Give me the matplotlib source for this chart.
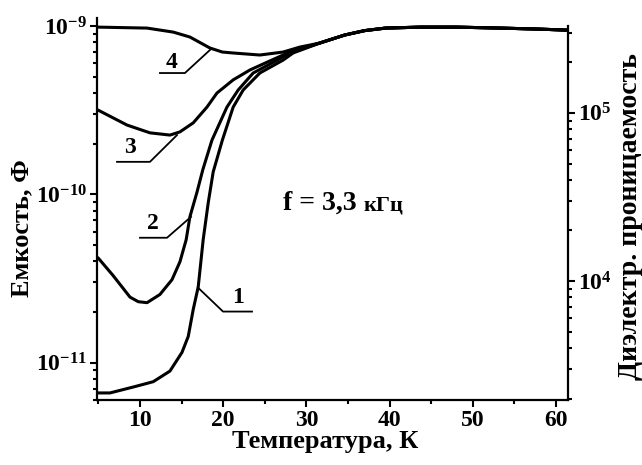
import numpy as np
import matplotlib
matplotlib.use('Agg')
from matplotlib import pyplot as plt
from matplotlib.ticker import MultipleLocator, NullFormatter

plt.rcParams['font.family'] = 'Liberation Serif'
plt.rcParams['font.weight'] = 'bold'
plt.rcParams['axes.labelweight'] = 'bold'
plt.rcParams['axes.linewidth'] = 1.6

# common high-temperature part (all curves merge)
temp_tail = [31.6, 34.6, 37.0, 39.5, 43.7, 48.0, 53.3, 58.1, 61.3]
cap_tail = [7.93e-10, 8.85e-10, 9.4e-10, 9.73e-10, 9.86e-10, 9.86e-10, 9.73e-10, 9.59e-10, 9.46e-10]

# curve 1
temp_1 = [4.95, 6.4, 9.4, 11.6, 13.6, 15.05, 15.8, 16.4, 17.0, 17.6, 18.2, 18.8,
          19.9, 21.2, 22.4, 24.4, 27.2, 28.4]
cap_1 = [6.6e-12, 6.6e-12, 7.2e-12, 7.7e-12, 8.9e-12, 1.15e-11, 1.43e-11, 2.07e-11,
         2.82e-11, 5.4e-11, 8.9e-11, 1.36e-10, 2.10e-10, 3.30e-10, 4.17e-10, 5.26e-10,
         6.28e-10, 6.92e-10]

# curve 2
temp_2 = [4.95, 6.75, 8.8, 9.8, 10.85, 12.4, 13.85, 14.8, 15.55, 16.0, 16.85, 17.55, 18.65,
          20.45, 21.8, 23.6, 26.5, 28.0]
cap_2 = [4.2e-11, 3.3e-11, 2.45e-11, 2.3e-11, 2.27e-11, 2.54e-11, 3.11e-11, 3.97e-11, 5.37e-11,
         7.35e-11, 1.03e-10, 1.40e-10, 2.10e-10, 3.30e-10, 4.17e-10, 5.26e-10, 6.28e-10,
         6.92e-10]

# curve 3
temp_3 = [4.95, 8.45, 11.2, 13.6, 14.8, 16.4, 18.05, 19.25, 21.2, 23.2, 25.3, 28.0]
cap_3 = [3.17e-10, 2.58e-10, 2.32e-10, 2.25e-10, 2.35e-10, 2.66e-10, 3.30e-10, 4.00e-10,
         4.79e-10, 5.48e-10, 6.11e-10, 7.01e-10]

# curve 4
temp_4 = [4.95, 10.85, 14.0, 16.0, 18.4, 19.9, 21.2, 24.4, 27.2, 29.2]
cap_4 = [9.86e-10, 9.73e-10, 9.21e-10, 8.61e-10, 7.41e-10, 7.01e-10, 6.92e-10, 6.73e-10,
         7.01e-10, 7.50e-10]

# capacitance -> dielectric permittivity
K = 3.28e14

fig = plt.figure(figsize=(6.42, 4.65), dpi=100)
ax = fig.add_axes([0.151, 0.140, 0.734, 0.821])
ax.set_yscale('log')

for t, c in [(temp_1, cap_1), (temp_2, cap_2), (temp_3, cap_3), (temp_4, cap_4)]:
    ax.plot(t + temp_tail, c + cap_tail, color='black', lw=2.2,
            solid_joinstyle='round', solid_capstyle='round')

ax.set_xlim(4.83, 61.45)
ylo, yhi = 6.0e-12, 1.115e-9
ax.set_ylim(ylo, yhi)
ax.xaxis.set_major_locator(MultipleLocator(10))
ax.xaxis.set_minor_locator(MultipleLocator(5))
ax.spines['top'].set_visible(False)
ax.spines['right'].set_visible(False)
ax.tick_params(which='both', direction='out', width=1.5, labelsize=17, pad=2)
ax.tick_params(which='major', length=5)
ax.tick_params(which='minor', length=3)
ax.yaxis.set_minor_formatter(NullFormatter())

ax2 = ax.twinx()
ax2.set_yscale('log')
ax2.set_ylim(ylo * K, yhi * K)
for s in ['top', 'left', 'bottom']:
    ax2.spines[s].set_visible(False)
ax2.spines['right'].set_bounds(ylo * K, 3.3e5)
ax2.tick_params(which='both', direction='out', width=1.5, labelsize=17, pad=2)
ax2.tick_params(which='major', length=5)
ax2.tick_params(which='minor', length=3)
ax2.yaxis.set_minor_formatter(NullFormatter())

ax.set_xlabel('Температура, К', fontsize=19)
ax.xaxis.set_label_coords(0.484, -0.078)
ax.set_ylabel('Емкость, Ф', fontsize=19)
ax.yaxis.set_label_coords(-0.134, 0.45)
ax2.set_ylabel('Диэлектр. проницаемость', fontsize=20)
ax2.yaxis.set_label_coords(1.106, 0.48)

t = ax.text(27.2, 8.09e-11, 'f = 3,3', fontsize=20, va='baseline')
ax.annotate('кГц', xy=(1, 0), xycoords=t, xytext=(5, 0), textcoords='offset points',
            fontsize=16, va='bottom')

# curve numbers with leader lines
labels = [
    ('4', (13.85, 6.11e-10), [(12.4, 5.26e-10), (15.4, 5.26e-10), (18.41, 7.21e-10)]),
    ('3', (8.8, 1.89e-10), [(7.24, 1.56e-10), (11.2, 1.56e-10), (14.45, 2.25e-10)]),
    ('2', (11.56, 6.68e-11), [(10.0, 5.52e-11), (13.25, 5.52e-11), (16.13, 7.35e-11)]),
    ('1', (21.78, 2.43e-11), [(16.97, 2.79e-11), (19.98, 2.01e-11), (23.46, 2.01e-11)]),
]
for txt, pos, pts in labels:
    ax.text(pos[0], pos[1], txt, fontsize=17, ha='center', va='center')
    xs, ys = zip(*pts)
    ax.plot(xs, ys, color='black', lw=1.3)

fig.savefig('out.png', dpi=100)
